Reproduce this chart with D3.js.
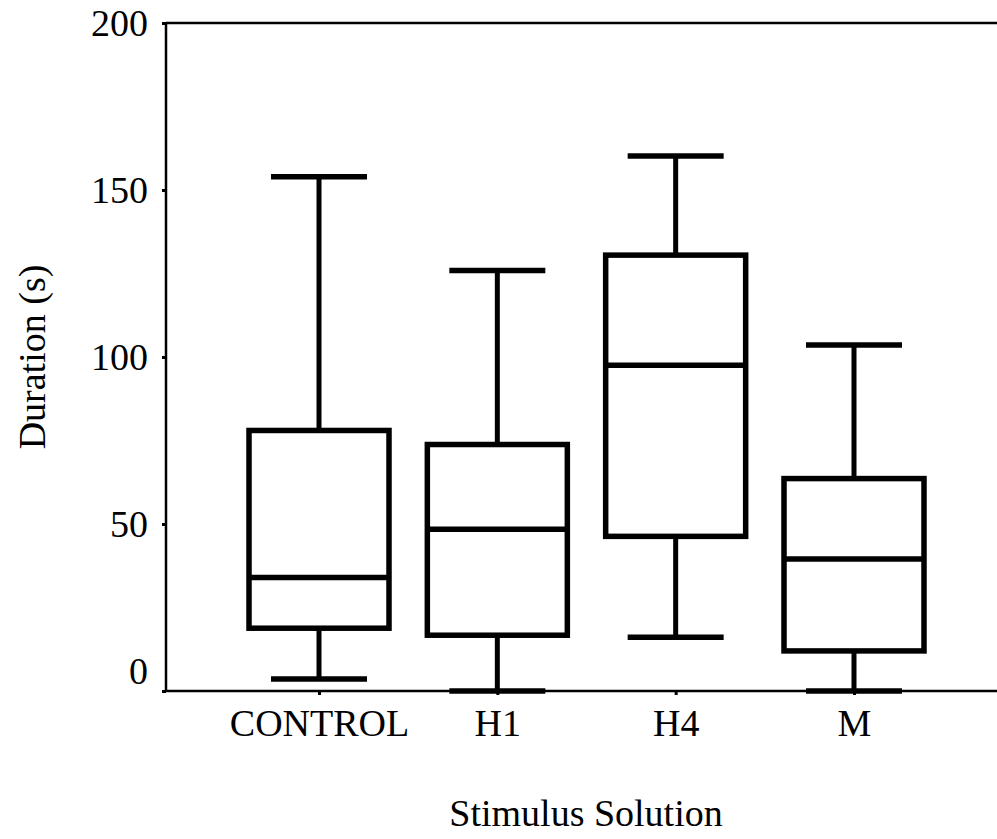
<!DOCTYPE html>
<html>
<head>
<meta charset="utf-8">
<script src="https://cdn.jsdelivr.net/npm/d3@7"></script>
<style>
  html, body { margin: 0; padding: 0; background: #fff; }
  svg { display: block; }
  text { font-family: "Liberation Serif", "Times New Roman", serif; fill: #000; }
</style>
</head>
<body>
<svg id="chart" width="997" height="839"></svg>
<script>
// Duration by stimulus solution: five-number summaries per group
const categories = ["CONTROL", "H1", "H4", "M"];
const whiskerLow  = [3.6, 0, 16.1, 0];
const quartile1   = [18.8, 16.7, 46.3, 12.0];
const medians     = [34.0, 48.4, 97.5, 39.5];
const quartile3   = [78.0, 73.8, 130.5, 63.6];
const whiskerHigh = [154.0, 125.9, 160.2, 103.6];
const yTicks = [0, 50, 100, 150, 200];

const data = categories.map((c, i) => ({
  name: c, lo: whiskerLow[i], q1: quartile1[i], med: medians[i],
  q3: quartile3[i], hi: whiskerHigh[i]
}));

const svg = d3.select("#chart");
const W = 997;
const plotLeft = 166, plotTop = 23, plotBottom = 691;

const y = d3.scaleLinear().domain([0, 200]).range([plotBottom, plotTop]);
const x = d3.scalePoint().domain(categories).range([319, 854]);

const boxW = 140, capW = 96;

// axes frame: left spine, bottom and top lines running to the edge
svg.append("line").attr("x1", plotLeft).attr("x2", plotLeft).attr("y1", y(200)).attr("y2", y(0))
  .attr("stroke", "#000").attr("stroke-width", 2.5);
svg.append("line").attr("x1", plotLeft).attr("x2", W).attr("y1", y(0)).attr("y2", y(0))
  .attr("stroke", "#000").attr("stroke-width", 2.5);
svg.append("line").attr("x1", plotLeft).attr("x2", W).attr("y1", y(200)).attr("y2", y(200))
  .attr("stroke", "#000").attr("stroke-width", 2.5);

// y axis ticks and labels (the zero label sits just above the baseline)
const yAxis = d3.axisLeft(y).tickValues(yTicks).tickSize(4).tickPadding(14).tickSizeOuter(0);
const gy = svg.append("g").attr("transform", `translate(${plotLeft},0)`).call(yAxis);
gy.select(".domain").remove();
gy.selectAll(".tick line").attr("stroke", "#000").attr("stroke-width", 3);
gy.selectAll(".tick text")
  .attr("font-size", 38)
  .attr("font-family", "Liberation Serif, serif")
  .attr("fill", "#000")
  .attr("dy", d => d === 0 ? "-0.21em" : "0.32em");

// x axis ticks and labels
const xAxis = d3.axisBottom(x).tickSize(4).tickPadding(14).tickSizeOuter(0);
const gx = svg.append("g").attr("transform", `translate(0,${plotBottom})`).call(xAxis);
gx.select(".domain").remove();
gx.selectAll(".tick line").attr("stroke", "#000").attr("stroke-width", 3);
gx.selectAll(".tick text")
  .attr("font-size", 38)
  .attr("font-family", "Liberation Serif, serif")
  .attr("fill", "#000")
  .attr("dy", "0.71em");

// boxes
const g = svg.append("g").attr("stroke", "#000").attr("fill", "none");
const grp = g.selectAll("g.box").data(data).join("g").attr("class", "box");

// whisker stems
grp.append("line")
  .attr("x1", d => x(d.name)).attr("x2", d => x(d.name))
  .attr("y1", d => y(d.hi)).attr("y2", d => y(d.q3))
  .attr("stroke-width", 5);
grp.append("line")
  .attr("x1", d => x(d.name)).attr("x2", d => x(d.name))
  .attr("y1", d => y(d.q1)).attr("y2", d => y(d.lo))
  .attr("stroke-width", 5);

// whisker caps
grp.append("line")
  .attr("x1", d => x(d.name) - capW / 2).attr("x2", d => x(d.name) + capW / 2)
  .attr("y1", d => y(d.hi)).attr("y2", d => y(d.hi))
  .attr("stroke-width", 5.5);
grp.append("line")
  .attr("x1", d => x(d.name) - capW / 2).attr("x2", d => x(d.name) + capW / 2)
  .attr("y1", d => y(d.lo)).attr("y2", d => y(d.lo))
  .attr("stroke-width", 5.5);

// interquartile box
grp.append("rect")
  .attr("x", d => x(d.name) - boxW / 2)
  .attr("width", boxW)
  .attr("y", d => y(d.q3))
  .attr("height", d => y(d.q1) - y(d.q3))
  .attr("fill", "#fff")
  .attr("stroke-width", 5.5);

// median line
grp.append("line")
  .attr("x1", d => x(d.name) - boxW / 2).attr("x2", d => x(d.name) + boxW / 2)
  .attr("y1", d => y(d.med)).attr("y2", d => y(d.med))
  .attr("stroke-width", 5.5);

// axis titles
svg.append("text")
  .attr("x", 586).attr("y", 826)
  .attr("text-anchor", "middle")
  .attr("font-size", 38)
  .text("Stimulus Solution");

svg.append("text")
  .attr("transform", `translate(45,357) rotate(-90)`)
  .attr("text-anchor", "middle")
  .attr("font-size", 38)
  .text("Duration (s)");
</script>
</body>
</html>
